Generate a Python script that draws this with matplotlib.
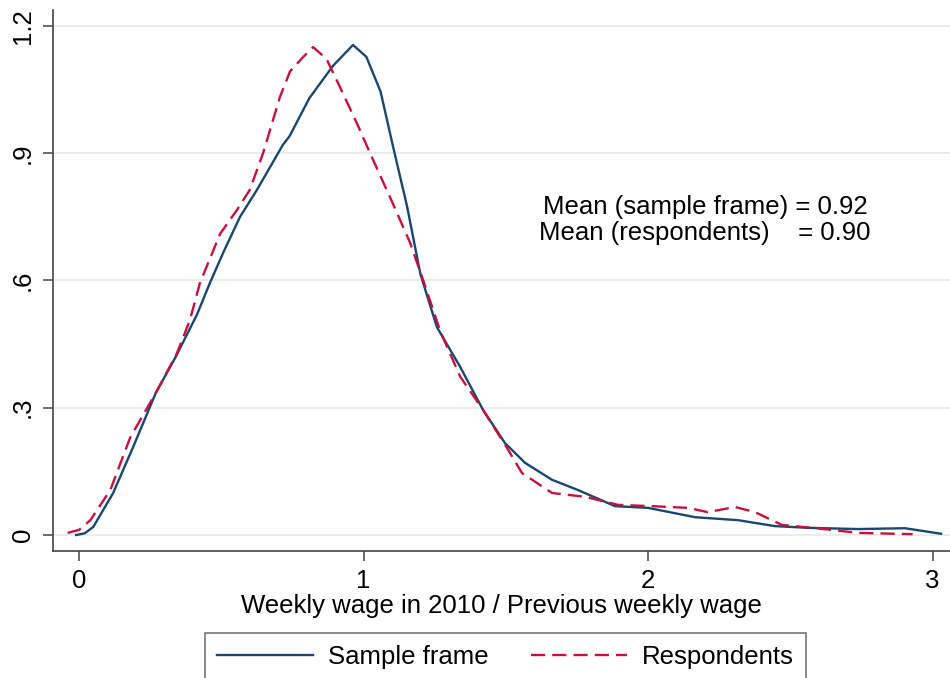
import matplotlib
matplotlib.use("Agg")
import matplotlib.pyplot as plt

plt.rcParams['font.family'] = ['Liberation Sans', 'DejaVu Sans']

# kernel density of wage ratio
frame_x = [-0.01, 0.02, 0.05, 0.12, 0.19, 0.27, 0.34, 0.415, 0.46, 0.51, 0.566,
           0.625, 0.717, 0.74, 0.81, 0.893, 0.963, 1.01, 1.06, 1.104, 1.153,
           1.2, 1.258, 1.34, 1.42, 1.497, 1.568, 1.663, 1.754, 1.884, 2.0,
           2.165, 2.316, 2.446, 2.56, 2.738, 2.903, 3.03]
frame_y = [0.0, 0.004, 0.019, 0.099, 0.207, 0.335, 0.42, 0.52, 0.594, 0.67, 0.75,
           0.813, 0.92, 0.94, 1.03, 1.106, 1.155, 1.127, 1.045, 0.915, 0.775,
           0.615, 0.49, 0.396, 0.295, 0.217, 0.17, 0.13, 0.106, 0.068, 0.064,
           0.042, 0.035, 0.021, 0.017, 0.014, 0.016, 0.003]

resp_x = [-0.04, 0.0, 0.04, 0.11, 0.18, 0.274, 0.344, 0.39, 0.425, 0.45, 0.496,
          0.555, 0.6, 0.647, 0.706, 0.742, 0.787, 0.823, 0.87, 0.917, 0.977,
          1.023, 1.104, 1.163, 1.21, 1.27, 1.34, 1.42, 1.503, 1.557, 1.663,
          1.779, 1.895, 2.014, 2.14, 2.21, 2.306, 2.376, 2.47, 2.62, 2.738, 2.93]
resp_y = [0.005, 0.012, 0.035, 0.106, 0.23, 0.34, 0.428, 0.507, 0.594, 0.635, 0.71,
          0.766, 0.813, 0.9, 1.032, 1.093, 1.126, 1.15, 1.122, 1.056, 0.97,
          0.9, 0.78, 0.69, 0.6, 0.48, 0.373, 0.295, 0.207, 0.146, 0.099,
          0.09, 0.071, 0.068, 0.064, 0.054, 0.066, 0.054, 0.024, 0.014, 0.005, 0.002]

y_ticks = [0, 0.3, 0.6, 0.9, 1.2]
y_labels = ['0', '.3', '.6', '.9', '1.2']
x_ticks = [0, 1, 2, 3]

blue = '#1a476f'
red = '#c8103e'
fs = 18.5

fig = plt.figure(figsize=(9.5, 6.78), dpi=100)
ax = fig.add_axes([0.0558, 0.1873, 0.9442, 0.7977])

ax.plot(frame_x, frame_y, color=blue, lw=1.7, label='Sample frame')
ax.plot(resp_x, resp_y, color=red, lw=1.7, linestyle=(0, (6, 3)), label='Respondents')

ax.set_xlim(-0.0914, 3.0615)
ax.set_ylim(-0.0377, 1.237)
ax.set_yticks(y_ticks)
ax.set_yticklabels(y_labels, rotation=90, va='center')
ax.set_xticks(x_ticks)
ax.tick_params(axis='both', labelsize=fs, length=7, width=1.1, color='#444444', pad=6)
for t in y_ticks:
    ax.axhline(t, color='#eaeaea', lw=1.3, zorder=0)

for s in ['top', 'right']:
    ax.spines[s].set_visible(False)
for s in ['left', 'bottom']:
    ax.spines[s].set_color('#444444')
    ax.spines[s].set_linewidth(1.2)

ax.set_xlabel('Weekly wage in 2010 / Previous weekly wage', fontsize=fs, labelpad=1)

ax.text(2.2, 0.772, 'Mean (sample frame) = 0.92', fontsize=fs, ha='center', va='center')
ax.text(2.2, 0.712, 'Mean (respondents)    = 0.90', fontsize=fs, ha='center', va='center')

leg = fig.legend(loc='upper center', bbox_to_anchor=(0.532, 1 - 633 / 678), ncol=2,
                 fontsize=fs, handlelength=3.74, handletextpad=0.58, columnspacing=1.63,
                 borderpad=0.47, frameon=True, fancybox=False, borderaxespad=0)
leg.get_frame().set_edgecolor('#444444')
leg.get_frame().set_linewidth(1.1)

fig.savefig('out.png', dpi=100)
